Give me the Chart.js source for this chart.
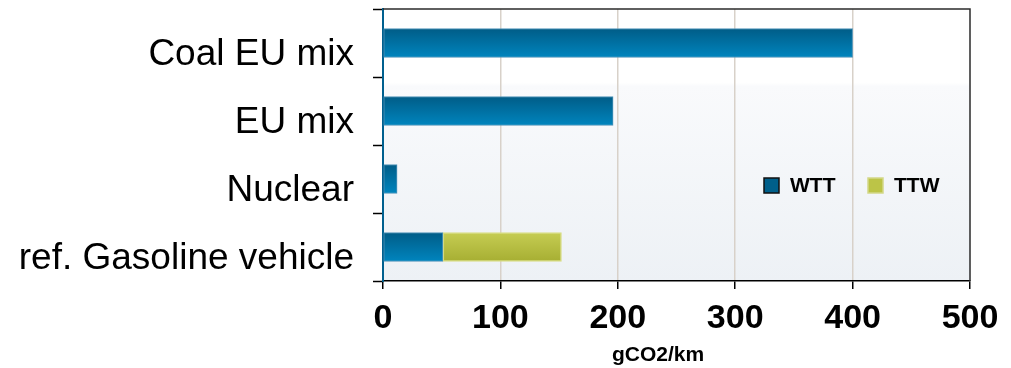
<!DOCTYPE html>
<html>
<head>
<meta charset="utf-8">
<script src="https://cdn.jsdelivr.net/npm/chart.js@4/dist/chart.umd.min.js"></script>
<style>
  html, body { margin: 0; padding: 0; background: #ffffff; }
  #wrap { width: 1011px; height: 368px; position: relative; }
</style>
</head>
<body>
<div id="wrap"><canvas id="c"></canvas></div>
<script>
// Well-to-wheel CO2 emissions per pathway
const categories = ['Coal EU mix', 'EU mix', 'Nuclear', 'ref. Gasoline vehicle'];
const wttValues = [400, 196, 12, 51];
const ttwValues = [0, 0, 0, 101];
const xTicks = [0, 100, 200, 300, 400, 500];
const seriesNames = ['WTT', 'TTW'];
const axisTitle = 'gCO2/km';

const SANS = '"Liberation Sans", Arial, sans-serif';

// vertical gradient for each bar, built from the category position
function barGradient(top, bottom) {
  return function (ctx) {
    const chart = ctx.chart;
    const y = chart.scales && chart.scales.y;
    if (!y) return bottom;
    const cy = y.getPixelForValue(ctx.dataIndex);
    if (cy === undefined || isNaN(cy)) return bottom;
    const g = chart.ctx.createLinearGradient(0, cy - 14, 0, cy + 14);
    g.addColorStop(0, top);
    g.addColorStop(1, bottom);
    return g;
  };
}

// plot background, frame and axis title
const plotFrame = {
  id: 'plotFrame',
  beforeDraw(chart) {
    const { ctx, chartArea: a } = chart;
    const g = ctx.createLinearGradient(0, a.top, 0, a.bottom);
    g.addColorStop(0, '#ffffff');
    g.addColorStop(0.27, '#ffffff');
    g.addColorStop(0.285, '#f9fafc');
    g.addColorStop(1, '#edf1f5');
    ctx.save();
    ctx.fillStyle = g;
    ctx.fillRect(a.left, a.top, a.right - a.left, a.bottom - a.top);
    ctx.restore();
  },
  afterDraw(chart) {
    const { ctx, chartArea: a } = chart;
    ctx.save();
    ctx.strokeStyle = '#2b2b2b';
    ctx.lineWidth = 1.5;
    ctx.beginPath();
    ctx.moveTo(a.left, a.top);
    ctx.lineTo(a.right, a.top);
    ctx.lineTo(a.right, a.bottom);
    ctx.stroke();
    // unit label under the value axis
    ctx.fillStyle = '#000000';
    ctx.font = 'bold 21px ' + SANS;
    ctx.textAlign = 'center';
    ctx.textBaseline = 'middle';
    ctx.fillText(axisTitle, 658, 355);
    ctx.restore();
  }
};

// legend drawn inside the plot area
const innerLegend = {
  id: 'innerLegend',
  afterDatasetsDraw(chart) {
    const { ctx } = chart;
    const items = [
      { x: 764, fill: '#005f8a', stroke: '#111111' },
      { x: 868, fill: '#bcc447', stroke: '#d3d888' }
    ];
    const cy = 185;
    ctx.save();
    ctx.font = 'bold 21px ' + SANS;
    ctx.textBaseline = 'middle';
    ctx.textAlign = 'left';
    chart.data.datasets.forEach((ds, i) => {
      const it = items[i];
      ctx.fillStyle = it.fill;
      ctx.fillRect(it.x, cy - 7, 15, 15);
      ctx.strokeStyle = it.stroke;
      ctx.lineWidth = 1.5;
      ctx.strokeRect(it.x, cy - 7, 15, 15);
      ctx.fillStyle = '#000000';
      ctx.fillText(ds.label, it.x + 26, cy + 1);
    });
    ctx.restore();
  }
};

new Chart(document.getElementById('c'), {
  type: 'bar',
  data: {
    labels: categories,
    datasets: [
      {
        label: seriesNames[0],
        data: wttValues,
        backgroundColor: barGradient('#005d88', '#0084bd'),
        borderColor: '#4f93b8',
        borderWidth: 1,
        borderSkipped: false,
        barThickness: 29
      },
      {
        label: seriesNames[1],
        data: ttwValues,
        backgroundColor: barGradient('#c5cc52', '#a7af33'),
        borderColor: '#d8dd86',
        borderWidth: 1.5,
        borderSkipped: false,
        barThickness: 29
      }
    ]
  },
  options: {
    indexAxis: 'y',
    responsive: true,
    maintainAspectRatio: false,
    animation: false,
    layout: { padding: { top: 9, right: 41, left: 0, bottom: 0 } },
    plugins: {
      legend: { display: false },
      tooltip: { enabled: false }
    },
    scales: {
      x: {
        type: 'linear',
        stacked: true,
        min: xTicks[0],
        max: xTicks[xTicks.length - 1],
        afterBuildTicks(scale) { scale.ticks = xTicks.map(v => ({ value: v })); },
        afterFit(scale) { scale.height = 87; scale.paddingLeft = 0; scale.paddingRight = 0; },
        border: { display: true, color: '#000000', width: 1.5 },
        grid: {
          color: (c) => (c.tick && (c.tick.value === 0 || c.tick.value === 500)) ? 'rgba(0,0,0,0)' : '#d8d1c9',
          lineWidth: 1.5,
          drawTicks: true,
          tickLength: 8,
          tickColor: '#000000',
          tickWidth: 1.5
        },
        ticks: {
          color: '#000000',
          font: { family: SANS, size: 34, weight: 'bold' },
          padding: 9,
          maxRotation: 0
        }
      },
      y: {
        type: 'category',
        stacked: true,
        offset: true,
        afterFit(scale) { scale.width = 383; scale.paddingTop = 0; scale.paddingBottom = 0; },
        border: { display: true, color: '#00608f', width: 2 },
        grid: {
          offset: true,
          drawOnChartArea: false,
          drawTicks: true,
          tickLength: 10,
          tickColor: '#000000',
          tickWidth: 1.5
        },
        ticks: {
          color: '#000000',
          font: { family: SANS, size: 37, weight: 'normal' },
          padding: 19,
          labelOffset: 12
        }
      }
    }
  },
  plugins: [plotFrame, innerLegend]
});
</script>
</body>
</html>
